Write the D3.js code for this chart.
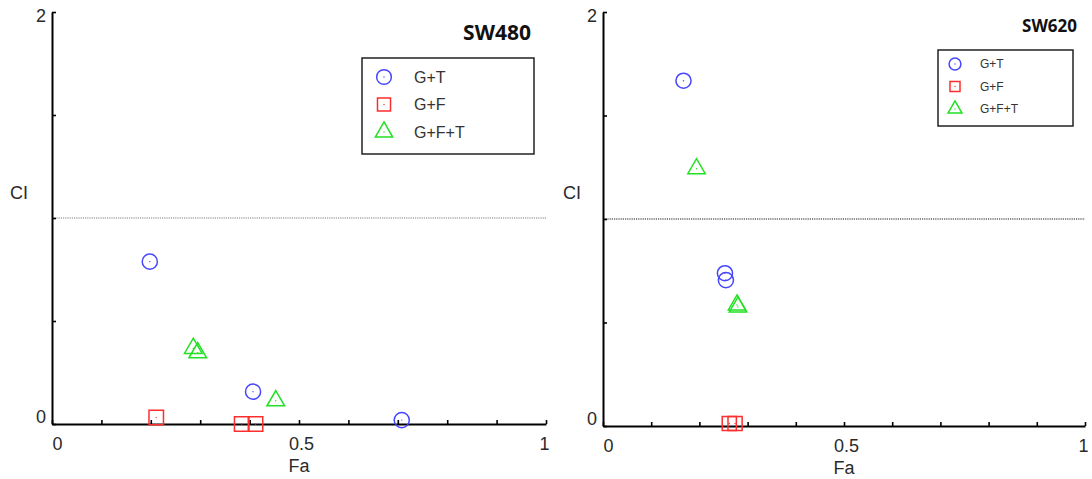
<!DOCTYPE html>
<html lang="en">
<head>
<meta charset="UTF-8">
<script src="https://cdnjs.cloudflare.com/ajax/libs/d3/7.8.5/d3.min.js"></script>
<title>CI vs Fa</title>
<style>
  body { margin: 0; background: #fff; }
  text { font-family: "Liberation Sans", Arial, sans-serif; }
</style>
</head>
<body>
<div id="content"></div>
<script>
// data: [Fa, CI]
const sw480GT = [[0.198, 0.788], [0.407, 0.157], [0.708, 0.019]];
const sw480GF = [[0.211, 0.031], [0.384, 0.0], [0.412, 0.0]];
const sw480GFT = [[0.286, 0.367], [0.295, 0.346], [0.453, 0.113]];

const sw620GT = [[0.167, 1.668], [0.253, 0.738], [0.255, 0.705]];
const sw620GF = [[0.262, 0.012], [0.274, 0.012]];
const sw620GFT = [[0.194, 1.243], [0.278, 0.585], [0.280, 0.575]];

const seriesNames = ["G+T", "G+F", "G+F+T"];
const xTicks = [0, 0.1, 0.2, 0.3, 0.4, 0.5, 0.6, 0.7, 0.8, 0.9, 1];
const yTicks = [0, 0.5, 1, 1.5, 2];
const xLabeled = [0, 0.5, 1];
const yLabeled = [0, 2];
const refLine = 1;

const colors = ["#4646ff", "#ff2e2e", "#22e022"];
const shapes = [d3.symbolCircle, d3.symbolSquare, d3.symbolTriangle];

const width = 1092, height = 479;
const svg = d3.select("#content").append("svg")
    .attr("width", width)
    .attr("height", height);

function panel(cfg) {
    const x = d3.scaleLinear().domain([0, 1]).range([cfg.left, cfg.right]);
    const y = d3.scaleLinear().domain([0, 2]).range([cfg.bottom, cfg.top]);
    const g = svg.append("g");

    // reference line at CI = 1
    g.append("line")
        .attr("x1", x(0)).attr("x2", x(1))
        .attr("y1", y(refLine)).attr("y2", y(refLine))
        .style("stroke", cfg.refColor)
        .style("stroke-width", 1.4)
        .style("stroke-dasharray", "1.2,1");

    //-Axis X
    const xAxis = d3.axisBottom(x)
        .tickValues(xTicks)
        .tickSizeInner(-4)
        .tickSizeOuter(0)
        .tickPadding(13)
        .tickFormat(d => xLabeled.includes(d) ? d3.format("")(d) : "");
    const gx = g.append("g")
        .attr("transform", `translate(0,${cfg.bottom})`)
        .call(xAxis);
    gx.selectAll("text")
        .style("font-size", "18px")
        .style("fill", "#2a2a2a")
        .attr("dx", d => d === 0 ? 5 : (d === 1 ? -2 : 2));

    //-Axis Y
    const yAxis = d3.axisLeft(y)
        .tickValues(yTicks)
        .tickSizeInner(-4)
        .tickSizeOuter(0)
        .tickPadding(6)
        .tickFormat(d => yLabeled.includes(d) ? d3.format("")(d) : "");
    const gy = g.append("g")
        .attr("transform", `translate(${cfg.left},0)`)
        .call(yAxis);
    gy.selectAll("text")
        .style("font-size", "18px")
        .style("fill", "#2a2a2a")
        .attr("dy", d => d === 0 ? "-0.1em" : "0.55em");

    [gx, gy].forEach(a => {
        a.select(".domain").style("stroke", "#000").style("stroke-width", 2);
        a.selectAll(".tick line").style("stroke", "#000").style("stroke-width", 1.6);
    });

    //-Axis titles
    g.append("text")
        .text("Fa")
        .attr("x", x(0.5))
        .attr("y", cfg.bottom + 48)
        .attr("text-anchor", "middle")
        .style("font-size", "18px")
        .style("fill", "#2a2a2a");
    g.append("text")
        .text("CI")
        .attr("x", cfg.left - cfg.ciOffset)
        .attr("y", 199)
        .attr("text-anchor", "middle")
        .style("font-size", "18px")
        .style("fill", "#2a2a2a");

    //-Points
    cfg.series.forEach((data, i) => {
        const sym = d3.symbol().type(shapes[i]).size(cfg.sizes[i]);
        const pts = g.append("g").selectAll("g")
            .data(data)
            .enter()
            .append("g")
            .attr("transform", d => `translate(${x(d[0])},${y(d[1])})`);
        pts.append("path")
            .attr("d", sym)
            .style("fill", "none")
            .style("stroke", colors[i])
            .style("stroke-width", 1.5);
        pts.append("circle")
            .attr("r", 0.7)
            .style("fill", colors[i]);
    });

    //-Title
    g.append("text")
        .text(cfg.title)
        .attr("x", cfg.titleX)
        .attr("y", cfg.titleY)
        .attr("text-anchor", "end")
        .style("font-family", "'Open Sans', sans-serif")
        .style("font-weight", "bold")
        .style("font-size", cfg.titleSize + "px")
        .style("fill", "#111");

    //-Legend
    const lg = cfg.legend;
    g.append("rect")
        .attr("x", lg.x).attr("y", lg.y)
        .attr("width", lg.w).attr("height", lg.h)
        .style("fill", "#fff")
        .style("stroke", "#222")
        .style("stroke-width", 1.5);
    seriesNames.forEach((name, i) => {
        const yy = lg.y + lg.first + i * lg.step;
        const sym = d3.symbol().type(shapes[i]).size(lg.sizes[i]);
        const m = g.append("g").attr("transform", `translate(${lg.x + lg.mx},${yy})`);
        m.append("path")
            .attr("d", sym)
            .style("fill", "none")
            .style("stroke", colors[i])
            .style("stroke-width", 1.5);
        m.append("circle").attr("r", 0.7).style("fill", colors[i]);
        g.append("text")
            .text(name)
            .attr("x", lg.x + lg.tx)
            .attr("y", yy)
            .attr("dy", "0.36em")
            .style("font-size", lg.font + "px")
            .style("fill", "#333");
    });
}

panel({
    left: 52, right: 546, top: 12, bottom: 424,
    refColor: "#a8a8a8", ciOffset: 33,
    series: [sw480GT, sw480GF, sw480GFT],
    sizes: [180, 210, 135],
    title: "SW480", titleX: 531, titleY: 40, titleSize: 21,
    legend: { x: 362, y: 58, w: 172, h: 96, first: 19, step: 27.5, mx: 22, tx: 52, font: 16,
              sizes: [170, 170, 130] }
});

panel({
    left: 603, right: 1085, top: 12, bottom: 426,
    refColor: "#666", ciOffset: 31,
    series: [sw620GT, sw620GF, sw620GFT],
    sizes: [180, 200, 130],
    title: "SW620", titleX: 1077, titleY: 32, titleSize: 17,
    legend: { x: 938, y: 50, w: 135, h: 76, first: 14, step: 22.5, mx: 17, tx: 42, font: 12,
              sizes: [110, 100, 85] }
});
</script>
</body>
</html>
